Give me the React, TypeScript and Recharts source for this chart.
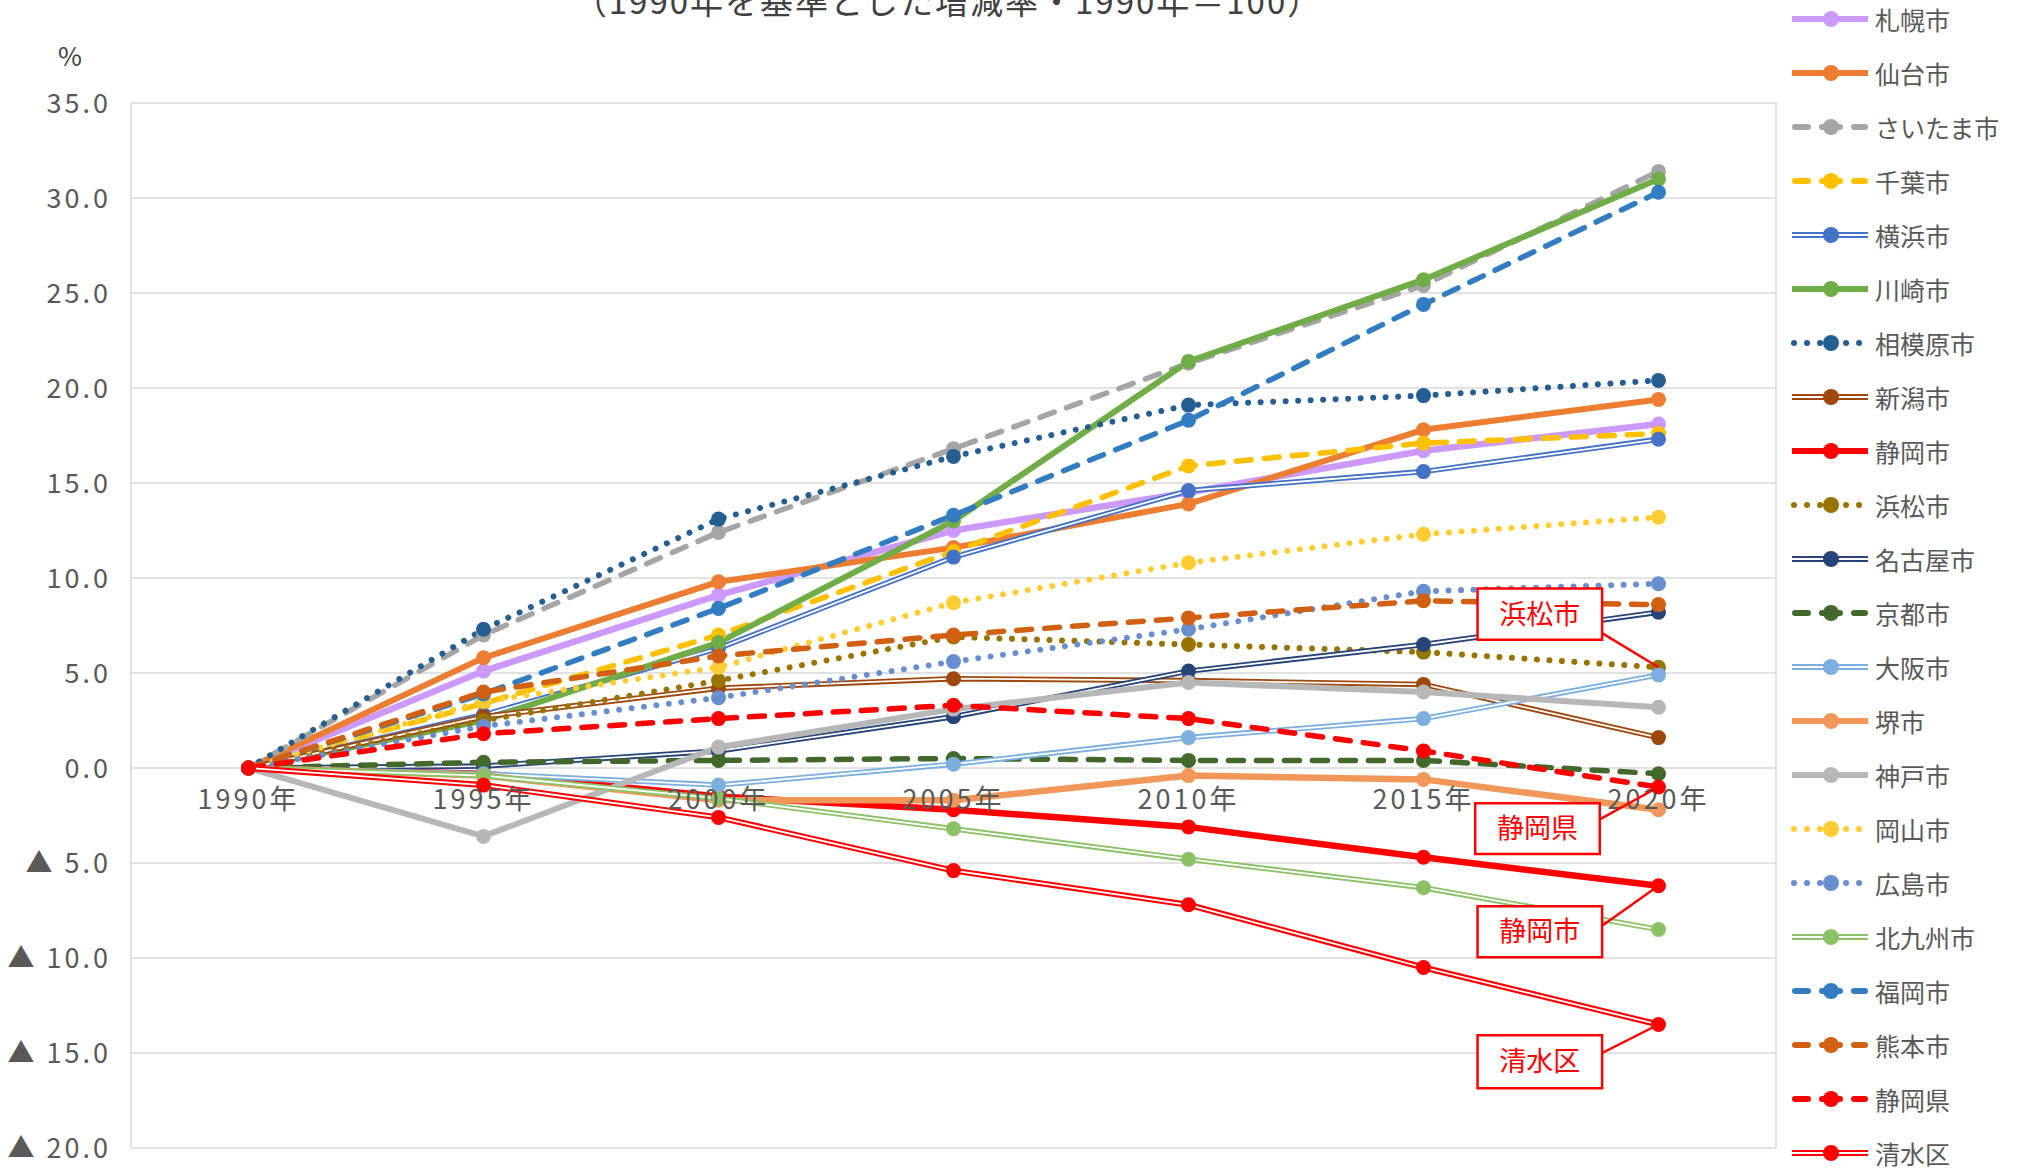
import React from "react";
import {
  CartesianGrid,
  Line,
  LineChart,
  ReferenceArea,
  ReferenceDot,
  ReferenceLine,
  XAxis,
  YAxis,
} from "recharts";

// 1990年を基準とした増減率（%）
const years = ["1990年", "1995年", "2000年", "2005年", "2010年", "2015年", "2020年"];
const yTicks = [-20, -15, -10, -5, 0, 5, 10, 15, 20, 25, 30, 35];

const sapporo = [0, 5.1, 9.1, 12.5, 14.5, 16.7, 18.1];
const sendai = [0, 5.8, 9.8, 11.6, 13.9, 17.8, 19.4];
const saitama = [0, 7.0, 12.4, 16.8, 21.3, 25.4, 31.4];
const chiba = [0, 3.4, 7.0, 11.4, 15.9, 17.1, 17.6];
const yokohama = [0, 2.8, 6.3, 11.1, 14.6, 15.6, 17.3];
const kawasaki = [0, 2.5, 6.6, 13.0, 21.4, 25.7, 31.0];
const sagamihara = [0, 7.3, 13.1, 16.4, 19.1, 19.6, 20.4];
const niigata = [0, 2.7, 4.2, 4.7, 4.6, 4.4, 1.6];
const shizuokaCity = [0, -0.3, -1.5, -2.2, -3.1, -4.7, -6.2];
const hamamatsu = [0, 2.5, 4.6, 6.9, 6.5, 6.1, 5.3];
const nagoya = [0, 0.1, 0.9, 2.7, 5.1, 6.5, 8.2];
const kyoto = [0, 0.3, 0.4, 0.5, 0.4, 0.4, -0.3];
const osaka = [0, -0.3, -0.9, 0.2, 1.6, 2.6, 4.9];
const sakai = [0, -0.4, -1.7, -1.7, -0.4, -0.6, -2.2];
const kobe = [0, -3.6, 1.1, 3.1, 4.5, 4.0, 3.2];
const okayama = [0, 3.5, 5.3, 8.7, 10.8, 12.3, 13.2];
const hiroshima = [0, 2.2, 3.7, 5.6, 7.3, 9.3, 9.7];
const kitakyushu = [0, -0.4, -1.6, -3.2, -4.8, -6.3, -8.5];
const fukuoka = [0, 3.9, 8.4, 13.3, 18.3, 24.4, 30.3];
const kumamoto = [0, 4.0, 5.9, 7.0, 7.9, 8.8, 8.6];
const shizuokaPref = [0, 1.8, 2.6, 3.3, 2.6, 0.9, -1.0];
const shimizu = [0, -0.9, -2.6, -5.4, -7.2, -10.5, -13.5];

type LineKind = "solid" | "dash" | "dot" | "double";

interface SeriesDef {
  key: string;
  name: string;
  values: number[];
  color: string;
  kind: LineKind;
  width: number;
}

const series: SeriesDef[] = [
  { key: "sapporo", name: "札幌市", values: sapporo, color: "#CC99FF", kind: "solid", width: 6.5 },
  { key: "sendai", name: "仙台市", values: sendai, color: "#ED7D31", kind: "solid", width: 6 },
  { key: "saitama", name: "さいたま市", values: saitama, color: "#A5A5A5", kind: "dash", width: 5.5 },
  { key: "chiba", name: "千葉市", values: chiba, color: "#FFC000", kind: "dash", width: 5.5 },
  { key: "yokohama", name: "横浜市", values: yokohama, color: "#4472C4", kind: "double", width: 5.5 },
  { key: "kawasaki", name: "川崎市", values: kawasaki, color: "#70AD47", kind: "solid", width: 6 },
  { key: "sagamihara", name: "相模原市", values: sagamihara, color: "#255E91", kind: "dot", width: 6 },
  { key: "niigata", name: "新潟市", values: niigata, color: "#9E480E", kind: "double", width: 5.5 },
  { key: "shizuokaCity", name: "静岡市", values: shizuokaCity, color: "#FF0000", kind: "solid", width: 6.5 },
  { key: "hamamatsu", name: "浜松市", values: hamamatsu, color: "#997300", kind: "dot", width: 6 },
  { key: "nagoya", name: "名古屋市", values: nagoya, color: "#264478", kind: "double", width: 5.5 },
  { key: "kyoto", name: "京都市", values: kyoto, color: "#43682B", kind: "dash", width: 5.5 },
  { key: "osaka", name: "大阪市", values: osaka, color: "#7CAFDD", kind: "double", width: 5.5 },
  { key: "sakai", name: "堺市", values: sakai, color: "#F1975A", kind: "solid", width: 6.5 },
  { key: "kobe", name: "神戸市", values: kobe, color: "#B7B7B7", kind: "solid", width: 6 },
  { key: "okayama", name: "岡山市", values: okayama, color: "#FFCD33", kind: "dot", width: 6 },
  { key: "hiroshima", name: "広島市", values: hiroshima, color: "#698ED0", kind: "dot", width: 6 },
  { key: "kitakyushu", name: "北九州市", values: kitakyushu, color: "#8CC168", kind: "double", width: 5.5 },
  { key: "fukuoka", name: "福岡市", values: fukuoka, color: "#327DC2", kind: "dash", width: 5.5 },
  { key: "kumamoto", name: "熊本市", values: kumamoto, color: "#D26012", kind: "dash", width: 5.5 },
  { key: "shizuokaPref", name: "静岡県", values: shizuokaPref, color: "#FF0000", kind: "dash", width: 5.5 },
  { key: "shimizu", name: "清水区", values: shimizu, color: "#FF0000", kind: "double", width: 6 },
];

// callout boxes (x in category units, y in %), pointing at the 2020 value
const callouts = [
  { label: "浜松市", target: "hamamatsu", x1: 5.73, x2: 6.26, y1: 6.75, y2: 9.45, fromY: 7.1 },
  { label: "静岡県", target: "shizuokaPref", x1: 5.72, x2: 6.25, y1: -4.53, y2: -1.85, fromY: -2.7 },
  { label: "静岡市", target: "shizuokaCity", x1: 5.73, x2: 6.26, y1: -9.96, y2: -7.28, fromY: -8.3 },
  { label: "清水区", target: "shimizu", x1: 5.73, x2: 6.26, y1: -16.85, y2: -14.07, fromY: -15.0 },
];

const data = years.map((year, i) => {
  const row: Record<string, number | string> = { x: i + 0.5, year };
  series.forEach((s) => {
    row[s.key] = s.values[i];
  });
  return row;
});

const FONT = "'Noto Sans CJK JP', 'Noto Sans', sans-serif";
const TEXT = "#595959";
const W = 2022;
const H = 1168;
const MARGIN = { top: 103, right: 246, bottom: 20, left: 0 };

const dashFor = (kind: LineKind) =>
  kind === "dash" ? "15 13" : kind === "dot" ? "0.01 12.5" : undefined;

const makeDot = (color: string) => (props: any) => (
  <circle key={`dot-${props.dataKey}-${props.index}`} cx={props.cx} cy={props.cy} r={7.5} fill={color} />
);

const formatY = (v: number) => (v < 0 ? `▲ ${Math.abs(v).toFixed(1)}` : v.toFixed(1));

function renderSeries(s: SeriesDef) {
  if (s.kind === "double") {
    return [
      <Line key={`${s.key}-outer`} type="linear" dataKey={s.key} stroke={s.color} strokeWidth={s.width}
        dot={false} activeDot={false} isAnimationActive={false} />,
      <Line key={`${s.key}-inner`} type="linear" dataKey={s.key} stroke="#FFFFFF" strokeWidth={1.8}
        dot={false} activeDot={false} isAnimationActive={false} />,
      <Line key={`${s.key}-dots`} type="linear" dataKey={s.key} stroke="none"
        dot={makeDot(s.color)} activeDot={false} isAnimationActive={false} />,
    ];
  }
  return (
    <Line
      key={s.key}
      type="linear"
      dataKey={s.key}
      stroke={s.color}
      strokeWidth={s.width}
      strokeDasharray={dashFor(s.kind)}
      strokeLinecap="round"
      dot={makeDot(s.color)}
      activeDot={false}
      isAnimationActive={false}
    />
  );
}

function LegendSample({ s }: { s: SeriesDef }) {
  const y = 15;
  return (
    <svg width={89} height={30} style={{ display: "block", flexShrink: 0 }}>
      {s.kind === "solid" && <line x1={6} x2={82} y1={y} y2={y} stroke={s.color} strokeWidth={6} />}
      {s.kind === "double" && (
        <>
          <line x1={6} x2={82} y1={y} y2={y} stroke={s.color} strokeWidth={6} />
          <line x1={6} x2={82} y1={y} y2={y} stroke="#FFFFFF" strokeWidth={2} />
        </>
      )}
      {s.kind === "dash" && (
        <>
          <line x1={9} x2={22} y1={y} y2={y} stroke={s.color} strokeWidth={6} strokeLinecap="round" />
          <line x1={36} x2={54} y1={y} y2={y} stroke={s.color} strokeWidth={6} strokeLinecap="round" />
          <line x1={68} x2={79} y1={y} y2={y} stroke={s.color} strokeWidth={6} strokeLinecap="round" />
        </>
      )}
      {s.kind === "dot" && (
        <line x1={8} x2={74} y1={y} y2={y} stroke={s.color} strokeWidth={6}
          strokeLinecap="round" strokeDasharray="0.01 13" />
      )}
      <circle cx={45} cy={y} r={8} fill={s.color} />
    </svg>
  );
}

export default function App() {
  return (
    <div style={{ position: "absolute", left: 0, top: 0, width: W, height: H, background: "#FFFFFF", fontFamily: FONT }}>
      <LineChart width={W} height={H} data={data} margin={MARGIN}>
        <CartesianGrid stroke="#D9D9D9" strokeWidth={1.5} />
        <XAxis type="number" dataKey="x" domain={[0, 7]} ticks={[0, 1, 2, 3, 4, 5, 6, 7]}
          tick={false} axisLine={false} tickLine={false} height={0} />
        <YAxis type="number" domain={[-20, 35]} ticks={yTicks} width={131} axisLine={false}
          tickLine={false} tickSize={0} tickMargin={20} tickFormatter={formatY}
          tick={{ fontSize: 27, fill: TEXT, fontFamily: FONT, letterSpacing: 3 }} />
        {years.map((year, i) => (
          <ReferenceDot key={year} x={i + 0.5} y={0} r={0} fill="none" stroke="none" ifOverflow="visible"
            label={{ value: year, position: "bottom", offset: 22, fill: TEXT, fontSize: 27, fontFamily: FONT, letterSpacing: 3 }} />
        ))}
        {series.map(renderSeries)}
      </LineChart>

      {/* callouts on a matching overlay so the white boxes sit above the lines */}
      <div style={{ position: "absolute", left: 0, top: 0, width: W, height: H, pointerEvents: "none" }}>
        <LineChart width={W} height={H} data={data} margin={MARGIN}>
          <XAxis type="number" dataKey="x" domain={[0, 7]} ticks={[0, 1, 2, 3, 4, 5, 6, 7]}
            tick={false} axisLine={false} tickLine={false} height={0} />
          <YAxis type="number" domain={[-20, 35]} ticks={yTicks} width={131} axisLine={false}
            tickLine={false} tick={false} />
          <Line type="linear" dataKey="shimizu" stroke="none" dot={false} activeDot={false} isAnimationActive={false} />
          {callouts.map((c) => {
            const t = series.find((s) => s.key === c.target)!;
            return (
              <ReferenceLine key={`${c.label}-lead`} ifOverflow="visible" stroke="#FF0000" strokeWidth={2.5}
                segment={[{ x: c.x2, y: c.fromY }, { x: 6.5, y: t.values[6] }]} />
            );
          })}
          {callouts.map((c) => (
            <ReferenceArea key={c.label} x1={c.x1} x2={c.x2} y1={c.y1} y2={c.y2} ifOverflow="visible"
              fill="#FFFFFF" fillOpacity={1} stroke="#FF0000" strokeWidth={2.5}
              label={{ value: c.label, position: "center", fill: "#FF0000", fontSize: 27, fontFamily: FONT }} />
          ))}
        </LineChart>
      </div>

      <svg width={W} height={120} style={{ position: "absolute", left: 0, top: 0, pointerEvents: "none" }}>
        <text x={948} y={14} textAnchor="middle" fontSize={33} letterSpacing={2} fill="#404040" fontFamily={FONT}>
          （1990年を基準とした増減率・1990年＝100）
        </text>
        <text x={70} y={66} textAnchor="middle" fontSize={26} fill="#404040" fontFamily={FONT}>%</text>
      </svg>

      <div style={{ position: "absolute", left: 1786, top: 0 }}>
        {series.map((s, i) => (
          <div key={s.key} style={{ position: "absolute", left: 0, top: 19 + 54 * i - 15, height: 30,
            display: "flex", alignItems: "center", whiteSpace: "nowrap", fontSize: 25, color: TEXT }}>
            <LegendSample s={s} />
            <span style={{ lineHeight: "30px" }}>{s.name}</span>
          </div>
        ))}
      </div>
    </div>
  );
}
